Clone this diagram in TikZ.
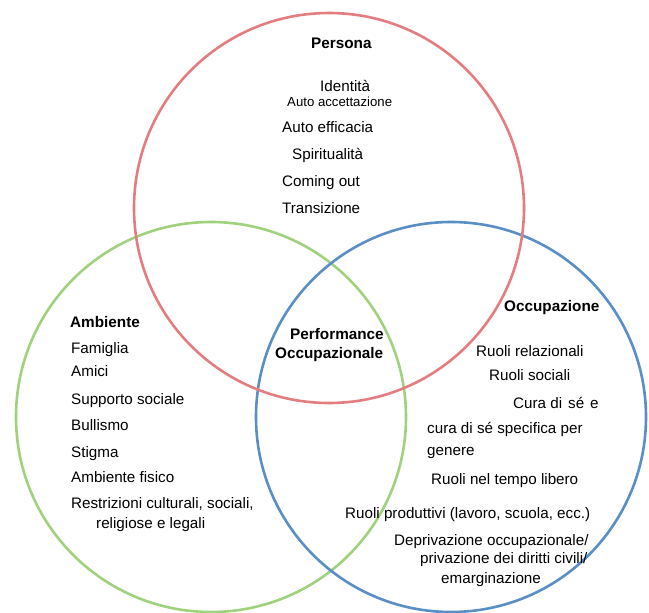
\documentclass[tikz,border=0pt]{standalone}
\usepackage{fontspec}
\setmainfont{Liberation Sans}
\usetikzlibrary{positioning}

\definecolor{persred}{RGB}{229,125,128}
\definecolor{ambgreen}{RGB}{160,210,125}
\definecolor{occblue}{RGB}{90,142,198}

\begin{document}
\begin{tikzpicture}[x=1pt, y=-1pt,
    every text node part/.style={align=left},
    ring/.style = {circle, line width=2.6pt, minimum size=390pt, inner sep=0pt},
    tx/.style   = {anchor=base west, inner sep=0pt, font=\fontsize{15.2}{18}\selectfont},
    sm/.style   = {tx, font=\fontsize{13.2}{16}\selectfont},
    hd/.style   = {tx, font=\fontsize{15.3}{18}\selectfont\bfseries}
  ]
  \useasboundingbox (0,0) rectangle (649,613);

  \node[ring, draw=ambgreen] (c_2) at (211,417) {};
  \node[ring, draw=occblue]  (c_3) at (451,417) {};
  \node[ring, draw=persred]  (c_1) at (329,208) {};

  \node[hd] (p_0) at (311,48.5)  {Persona};
  \node[tx] (p_1) at (320,91.5)  {Identità};
  \node[sm] (p_2) at (287,106)   {Auto accettazione};
  \node[tx] (p_3) at (282,132.5) {Auto efficacia};
  \node[tx] (p_4) at (292,159.5) {Spiritualità};
  \node[tx] (p_5) at (282,186.5) {Coming out};
  \node[tx] (p_6) at (282,213.5) {Transizione};

  \node[hd] (a_0) at (70,327.5)  {Ambiente};
  \node[tx] (a_1) at (71,353.5)  {Famiglia};
  \node[tx] (a_2) at (71,376.5)  {Amici};
  \node[tx] (a_3) at (71,404.5)  {Supporto sociale};
  \node[tx] (a_4) at (71,430.5)  {Bullismo};
  \node[tx] (a_5) at (71,457.5)  {Stigma};
  \node[tx] (a_6) at (71,482.5)  {Ambiente fisico};
  \node[tx] (a_7) at (71,508.5)  {Restrizioni culturali, sociali,};
  \node[tx] (a_8) at (96,528.5)  {religiose e legali};

  \node[hd] (m_1) at (290,339.5) {Performance};
  \node[hd] (m_2) at (275,358.5) {Occupazionale};

  \node[hd] (o_0)  at (504,311.5) {Occupazione};
  \node[tx] (o_1)  at (476,356.5) {Ruoli relazionali};
  \node[tx] (o_2)  at (489,380.5) {Ruoli sociali};
  \node[tx] (o_3)  at (513,408.5) {Cura di\hspace{6pt}sé\hspace{6pt}e};
  \node[tx] (o_4)  at (427,433.5) {cura di sé specifica per};
  \node[tx] (o_5)  at (427,455)   {genere};
  \node[tx] (o_6)  at (431,484.5) {Ruoli nel tempo libero};
  \node[tx] (o_7)  at (345,518.5) {Ruoli produttivi (lavoro, scuola, ecc.)};
  \node[tx] (o_8)  at (394,545.5) {Deprivazione occupazionale/};
  \node[tx] (o_9)  at (420,563.5) {privazione dei diritti civili/};
  \node[tx] (o_10) at (441,583)   {emarginazione};
\end{tikzpicture}
\end{document}
